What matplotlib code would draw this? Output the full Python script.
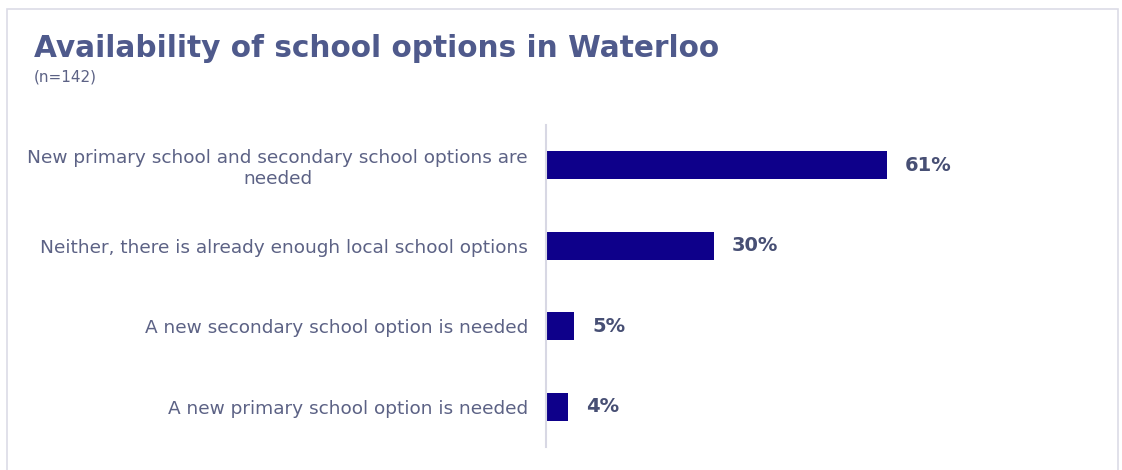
import matplotlib.pyplot as plt
from matplotlib.patches import Rectangle

categories = ['New primary school and secondary school options are\nneeded',
              'Neither, there is already enough local school options',
              'A new secondary school option is needed',
              'A new primary school option is needed']
values = [61, 30, 5, 4]
value_labels = ['61%', '30%', '5%', '4%']

bar_color = '#0e008a'
title_color = '#4f5a8c'
label_color = '#5c6285'
value_color = '#474f74'

plt.rcParams['font.family'] = ['DejaVu Sans']

fig = plt.figure(figsize=(11.22, 4.7), dpi=100)
W, H = 1122, 470

# light frame around the card
fig.patches.append(Rectangle((7 / W, -0.1), (1118 - 7) / W, 1.1 - 9 / H,
                             transform=fig.transFigure, fill=False,
                             edgecolor='#dcdce6', linewidth=1.2))

ax = fig.add_axes([546 / W, 1 - 447 / H, (1110 - 546) / W, (447 - 125) / H])

y = list(range(len(categories)))
ax.barh(y, values, height=0.35, color=bar_color)
ax.set_ylim(3.5, -0.5)
ax.set_xlim(0, 101)

for yi, v, lab in zip(y, values, value_labels):
    ax.annotate(lab, (v, yi), xytext=(13, 0), textcoords='offset points',
                va='center', ha='left', fontsize=14, fontweight='bold',
                color=value_color)

ax.set_yticks(y)
ax.set_yticklabels(categories, fontsize=13.3, color=label_color,
                   multialignment='center')
ax.tick_params(axis='y', length=0, pad=13)
ax.set_xticks([])
for s in ['top', 'right', 'bottom']:
    ax.spines[s].set_visible(False)
ax.spines['left'].set_color('#d8d8e4')
ax.spines['left'].set_linewidth(1.5)

fig.text(34 / W, 1 - 57 / H, 'Availability of school options in Waterloo',
         fontsize=21.3, fontweight='bold', color=title_color, va='baseline')
fig.text(34 / W, 1 - 82 / H, '(n=142)', fontsize=11, color=label_color,
         va='baseline')

fig.savefig('out.png', dpi=100)
